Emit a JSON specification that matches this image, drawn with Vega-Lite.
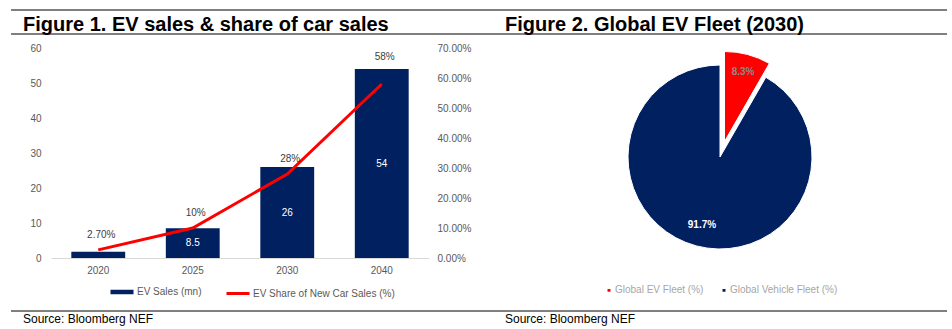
{
  "$schema": "https://vega.github.io/schema/vega-lite/v6.json",
  "padding": {"left": 10, "top": 9, "right": 0, "bottom": 0},
  "background": "white",
  "config": {
    "font": "Liberation Sans",
    "view": {"stroke": null},
    "axis": {"labelFont": "Liberation Sans", "grid": false}
  },
  "columns": 2,
  "spacing": {"row": 0, "column": 58},
  "bounds": "flush",
  "resolve": {"scale": {"color": "independent"}, "legend": {"color": "independent"}},
  "concat": [
    {
      "width": 378,
      "height": 38,
      "data": {"values": [{"t": "Figure 1. EV sales & share of car sales"}]},
      "layer": [
        {"mark": {"type": "rule", "color": "black", "strokeWidth": 1}, "encoding": {"x": {"value": -40}, "x2": {"value": 430}, "y": {"value": 0}}},
        {"mark": {"type": "rule", "color": "black", "strokeWidth": 1}, "encoding": {"x": {"value": -40}, "x2": {"value": 430}, "y": {"value": 24}}},
        {"mark": {"type": "text", "align": "left", "baseline": "alphabetic", "fontSize": 20, "fontWeight": "bold", "color": "black"}, "encoding": {"x": {"value": -28}, "y": {"value": 20.5}, "text": {"field": "t"}}}
      ]
    },
    {
      "width": 466,
      "height": 38,
      "data": {"values": [{"t": "Figure 2. Global EV Fleet (2030)"}]},
      "layer": [
        {"mark": {"type": "rule", "color": "black", "strokeWidth": 1}, "encoding": {"x": {"value": -6}, "x2": {"value": 460}, "y": {"value": 0}}},
        {"mark": {"type": "rule", "color": "black", "strokeWidth": 1}, "encoding": {"x": {"value": -6}, "x2": {"value": 460}, "y": {"value": 24}}},
        {"mark": {"type": "text", "align": "left", "baseline": "alphabetic", "fontSize": 20, "fontWeight": "bold", "color": "black"}, "encoding": {"x": {"value": 18}, "y": {"value": 20.5}, "text": {"field": "t"}}}
      ]
    },
    {
      "width": 378,
      "height": 210,
      "data": {"values": [
        {"year": "2020", "sales": 1.8, "share": 0.027, "share_label": "2.70%", "sales_label": ""},
        {"year": "2025", "sales": 8.5, "share": 0.10, "share_label": "10%", "sales_label": "8.5"},
        {"year": "2030", "sales": 26, "share": 0.28, "share_label": "28%", "sales_label": "26"},
        {"year": "2040", "sales": 54, "share": 0.58, "share_label": "58%", "sales_label": "54"}
      ]},
      "encoding": {
        "x": {"field": "year", "type": "nominal", "scale": {"paddingInner": 0.43, "paddingOuter": 0.215},
          "axis": {"title": null, "labelAngle": 0, "domainColor": "#d9d9d9", "ticks": false, "labelPadding": 7, "labelColor": "#595959", "labelFontSize": 10}}
      },
      "layer": [
        {
          "mark": {"type": "bar"},
          "encoding": {
            "y": {"field": "sales", "type": "quantitative", "scale": {"domain": [0, 60]},
              "axis": {"orient": "left", "title": null, "values": [0, 10, 20, 30, 40, 50, 60], "domain": false, "ticks": false, "labelPadding": 10, "labelColor": "#595959", "labelFontSize": 10}},
            "color": {"datum": "EV Sales (mn)", "type": "nominal",
              "scale": {"domain": ["EV Sales (mn)", "EV Share of New Car Sales (%)"], "range": ["#002060", "#ff0000"]},
              "legend": {"orient": "none", "legendX": 66, "legendY": 239, "direction": "horizontal", "columns": 2, "title": null,
                "symbolType": "stroke", "symbolSize": 530, "symbolStrokeWidth": 3.5, "labelFontSize": 10, "labelColor": "#595959", "labelOffset": 10, "columnPadding": 18,
                "encode": {"symbols": {"update": {"stroke": {"scale": "color", "field": "value"}, "strokeWidth": {"signal": "datum.value === 'EV Sales (mn)' ? 4.5 : 3"}}}}}
            }
          }
        },
        {
          "mark": {"type": "text", "color": "white", "fontSize": 10, "baseline": "middle"},
          "encoding": {
            "y": {"field": "sales", "type": "quantitative", "scale": {"domain": [0, 120]}, "axis": null},
            "text": {"field": "sales_label"}
          }
        },
        {
          "mark": {"type": "line", "strokeWidth": 3},
          "encoding": {
            "y": {"field": "share", "type": "quantitative", "scale": {"domain": [0, 0.7]},
              "axis": {"orient": "right", "title": null, "values": [0, 0.1, 0.2, 0.3, 0.4, 0.5, 0.6, 0.7], "format": ".2%", "domain": false, "ticks": false, "labelPadding": 8, "labelColor": "#595959", "labelFontSize": 10}},
            "color": {"datum": "EV Share of New Car Sales (%)", "type": "nominal"}
          }
        },
        {
          "transform": [{"filter": "datum.year !== '2040'"}],
          "mark": {"type": "text", "color": "#404040", "fontSize": 10, "baseline": "middle", "dy": -15, "dx": 3},
          "encoding": {
            "y": {"field": "share", "type": "quantitative", "scale": {"domain": [0, 0.7]}, "axis": null},
            "text": {"field": "share_label"}
          }
        },
        {
          "transform": [{"filter": "datum.year === '2040'"}],
          "mark": {"type": "text", "color": "#404040", "fontSize": 10, "baseline": "middle", "dy": -27, "dx": 3},
          "encoding": {
            "y": {"field": "share", "type": "quantitative", "scale": {"domain": [0, 0.7]}, "axis": null},
            "text": {"field": "share_label"}
          }
        }
      ],
      "resolve": {"scale": {"y": "independent"}}
    },
    {
      "width": 466,
      "height": 218,
      "data": {"values": [
        {"category": "Global EV Fleet (%)", "value": 8.3, "label": "8.3%"},
        {"category": "Global Vehicle Fleet (%)", "value": 91.7, "label": "91.7%"}
      ]},
      "encoding": {
        "theta": {"field": "value", "type": "quantitative", "stack": true},
        "order": {"field": "category", "sort": "ascending"}
      },
      "layer": [
        {
          "mark": {"type": "arc", "radius": 92, "stroke": "white", "strokeWidth": 1},
          "encoding": {
            "color": {"field": "category", "type": "nominal",
              "scale": {"domain": ["Global EV Fleet (%)", "Global Vehicle Fleet (%)"], "range": ["#ff0000", "#002060"]},
              "legend": {"orient": "none", "legendX": 117, "legendY": 237, "direction": "horizontal", "columns": 2, "title": null,
                "symbolType": "square", "symbolSize": 20, "symbolOpacity": 1, "labelFontSize": 10, "labelColor": "#a6a6a6", "labelOffset": 1, "columnPadding": 14,
                "encode": {"symbols": {"update": {"fillOpacity": {"value": 1}, "opacity": {"value": 1}, "strokeWidth": {"value": 0}}}}}},
            "fillOpacity": {"condition": {"test": "datum.category === 'Global EV Fleet (%)'", "value": 0}, "value": 1},
            "strokeOpacity": {"condition": {"test": "datum.category === 'Global EV Fleet (%)'", "value": 0}, "value": 1}
          }
        },
        {
          "mark": {"type": "arc", "radius": 90, "xOffset": 4.5, "yOffset": -15.5, "stroke": "white", "strokeWidth": 1},
          "encoding": {
            "color": {"field": "category", "type": "nominal"},
            "fillOpacity": {"condition": {"test": "datum.category === 'Global EV Fleet (%)'", "value": 1}, "value": 0},
            "strokeOpacity": {"condition": {"test": "datum.category === 'Global EV Fleet (%)'", "value": 1}, "value": 0}
          }
        },
        {
          "mark": {"type": "text", "radius": 70, "fontSize": 10, "fontWeight": "bold", "color": "white"},
          "encoding": {
            "text": {"field": "label"},
            "opacity": {"condition": {"test": "datum.category === 'Global EV Fleet (%)'", "value": 0}, "value": 1}
          }
        },
        {
          "mark": {"type": "text", "radius": 72, "xOffset": 4.5, "yOffset": -15.5, "fontSize": 10, "fontWeight": "bold", "color": "#8a8a8a"},
          "encoding": {
            "text": {"field": "label"},
            "opacity": {"condition": {"test": "datum.category === 'Global EV Fleet (%)'", "value": 1}, "value": 0}
          }
        }
      ]
    },
    {
      "width": 378,
      "height": 64,
      "data": {"values": [{"t": "Source: Bloomberg NEF"}]},
      "layer": [
        {"mark": {"type": "rule", "color": "black", "strokeWidth": 1}, "encoding": {"x": {"value": -40}, "x2": {"value": 430}, "y": {"value": 45}}},
        {"mark": {"type": "text", "align": "left", "baseline": "alphabetic", "fontSize": 12, "color": "black"}, "encoding": {"x": {"value": -28}, "y": {"value": 57}, "text": {"field": "t"}}}
      ]
    },
    {
      "width": 466,
      "height": 64,
      "data": {"values": [{"t": "Source: Bloomberg NEF"}]},
      "layer": [
        {"mark": {"type": "rule", "color": "black", "strokeWidth": 1}, "encoding": {"x": {"value": -6}, "x2": {"value": 460}, "y": {"value": 45}}},
        {"mark": {"type": "text", "align": "left", "baseline": "alphabetic", "fontSize": 12, "color": "black"}, "encoding": {"x": {"value": 18}, "y": {"value": 57}, "text": {"field": "t"}}}
      ]
    }
  ]
}
